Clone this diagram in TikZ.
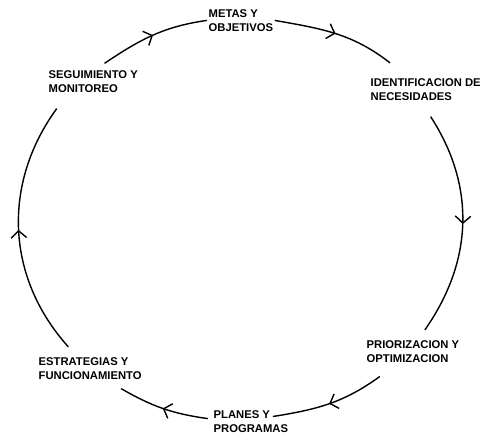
\documentclass[tikz,border=0pt]{standalone}
\usepackage{fontspec}
\setmainfont{Liberation Sans}
\usetikzlibrary{arrows.meta,decorations.markings}

\begin{document}
\begin{tikzpicture}[
  x=0.025cm, y=0.025cm,
  stage/.style={anchor=north west, align=left, inner sep=1pt,
    font=\bfseries\fontsize{8}{9.6}\selectfont},
  cycle/.style={line width=1pt,
    decoration={markings, mark=at position 0.5 with
      {\arrow{Straight Barb[length=5pt,width=11pt,line width=1pt]}}},
    postaction={decorate}}
]

\useasboundingbox (0,0) rectangle (487,435);

% --- Stages of the cycle ---
\node[stage] (metas)  at (207,427) {METAS Y\\OBJETIVOS};
\node[stage] (ident)  at (369,358) {IDENTIFICACION DE\\NECESIDADES};
\node[stage] (prior)  at (365,96)  {PRIORIZACION Y\\OPTIMIZACION};
\node[stage] (planes) at (212,26)  {PLANES Y\\PROGRAMAS};
\node[stage] (estrat) at (37,79)   {ESTRATEGIAS Y\\FUNCIONAMIENTO};
\node[stage] (seg)    at (47,366)  {SEGUIMIENTO Y\\MONITOREO};

% --- Arcs, clockwise ---
\draw[cycle] ([xshift=8pt,yshift=4pt]seg.north) to[out=34,in=-172] (metas.west);
\draw[cycle] (metas.east) to[out=-10,in=142] ([xshift=15pt,yshift=10pt]ident.north west);
\draw[cycle] ([xshift=3.5pt,yshift=-10.5pt]ident.south) to[out=-57,in=55] ([xshift=8.5pt,yshift=6.5pt]prior.north);
\draw[cycle] ([xshift=10.5pt,yshift=-9pt]prior.south west) to[out=216,in=9] ([xshift=-12pt,yshift=3.5pt]planes.east);
\draw[cycle] ([xshift=-3pt,yshift=2pt]planes.west) to[out=172,in=-30] ([xshift=22pt,yshift=-5.5pt]estrat.south);
\draw[cycle] ([xshift=-15.5pt,yshift=6.5pt]estrat.north) to[out=132,in=-126] ([xshift=-26pt,yshift=-10.5pt]seg.south);

\end{tikzpicture}
\end{document}
